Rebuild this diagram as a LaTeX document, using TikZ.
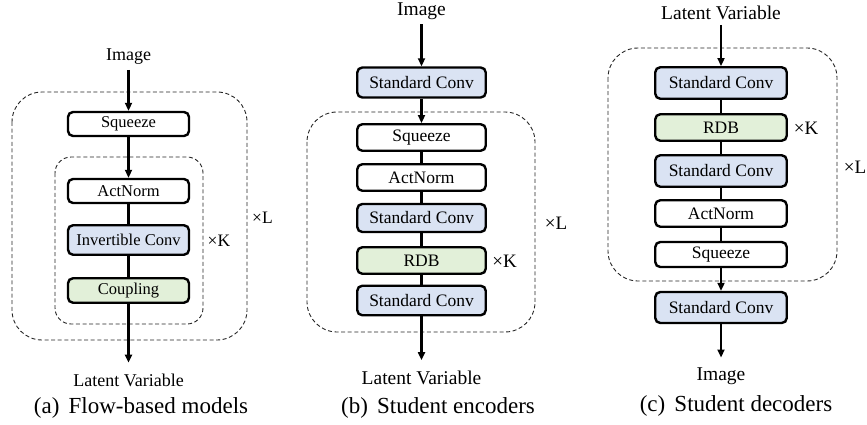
\documentclass[tikz,border=0pt]{standalone}
\usepackage{fontspec}
\setmainfont{Liberation Serif}
\newfontfamily\timesf{Liberation Serif}
\usetikzlibrary{arrows.meta,positioning,calc}

\definecolor{convblue}{HTML}{DAE3F3}
\definecolor{rdbgreen}{HTML}{E2F0D9}

\newcommand{\boxfa}{\timesf\fontsize{16.5}{19}\selectfont}
\newcommand{\boxfb}{\timesf\fontsize{17.5}{20}\selectfont}
\newcommand{\lblfa}{\timesf\fontsize{18}{21}\selectfont}
\newcommand{\lblfb}{\timesf\fontsize{19.5}{22}\selectfont}
\newcommand{\capf}{\timesf\fontsize{23}{26}\selectfont}

\tikzset{
  blk/.style={draw, line width=2.4pt, rounded corners=5pt, fill=white, inner sep=0pt, align=center},
  blka/.style={blk, minimum width=121pt, minimum height=24pt, font=\boxfa},
  blkb/.style={blk, minimum width=128.5pt, minimum height=26.5pt, font=\boxfb},
  blkc/.style={blk, minimum width=131.5pt, minimum height=26.5pt, font=\boxfb},
  conv/.style={fill=convblue},
  rdb/.style={fill=rdbgreen},
  lbl/.style={inner sep=2pt, outer sep=3pt},
  frame/.style={line width=0.9pt, dash pattern=on 4pt off 2.6pt, draw=black!85},
  link/.style={line width=2.2pt},
}

\begin{document}
\begin{tikzpicture}[x=1pt, y=-1pt, >={Triangle[length=8pt,width=7pt]}]
    \useasboundingbox (0,0) rectangle (867,425);

    %(a) flow-based models
    \draw[frame, rounded corners=30pt] (12,92) rectangle (247,340);
    \draw[frame, rounded corners=16pt] (55,157) rectangle (203,324);

    \node[lbl, font=\lblfa] (imgA) at (128.5,57) {Image};
    \node[blka] (sqA) at (128.5,124) {Squeeze};
    \node[blka] (anA) at (128.5,191) {ActNorm};
    \node[blka, conv, minimum height=29.5pt] (icA) at (128.5,240) {Invertible Conv};
    \node[blka, rdb, minimum height=24.5pt] (cpA) at (128.5,290.5) {Coupling};
    \node[lbl, font=\lblfa] (latA) at (128.5,380) {Latent Variable};

    \node[font=\timesf\fontsize{17.5}{20}\selectfont] (kA) at (219,241) {×K};
    \node[font=\timesf\fontsize{17.5}{20}\selectfont] (lA) at (262.5,218) {×L};
    \node[font=\capf] (capA) at (141,408) {(a)\hspace{0.15em} Flow-based models};

    \draw[link, ->] (imgA) -- (sqA);
    \draw[link, ->] (sqA) -- (anA);
    \draw[link] (anA) -- (icA);
    \draw[link] (icA) -- (cpA);
    \draw[link, ->, shorten >=6pt] (cpA) -- (latA);

    %(b) student encoders
    \draw[frame, rounded corners=30pt] (307,112) rectangle (535,332);

    \node[lbl, font=\lblfb] (imgB) at (421.5,11) {Image};
    \node[blkb, conv, minimum height=30pt] (sc1B) at (421.5,82.5) {Standard Conv};
    \node[blkb] (sqB) at (421.5,137.5) {Squeeze};
    \node[blkb] (anB) at (421.5,177.5) {ActNorm};
    \node[blkb, conv, minimum height=28pt] (sc2B) at (421.5,218) {Standard Conv};
    \node[blkb, rdb] (rdbB) at (421.5,260.5) {RDB};
    \node[blkb, conv, minimum height=29.5pt] (sc3B) at (421.5,300.5) {Standard Conv};
    \node[lbl, font=\lblfb] (latB) at (421.5,378) {Latent Variable};

    \node[font=\timesf\fontsize{19}{22}\selectfont] (kB) at (504.5,261) {×K};
    \node[font=\timesf\fontsize{19}{22}\selectfont] (lB) at (556,223) {×L};
    \node[font=\capf] (capB) at (438,408) {(b)\hspace{0.15em} Student encoders};

    \draw[link, ->] (imgB) -- (sc1B);
    \draw[link, ->] (sc1B) -- (sqB);
    \draw[link] (sqB) -- (anB);
    \draw[link] (anB) -- (sc2B);
    \draw[link] (sc2B) -- (rdbB);
    \draw[link] (rdbB) -- (sc3B);
    \draw[link, ->, shorten >=6pt] (sc3B) -- (latB);

    %(c) student decoders
    \draw[frame, rounded corners=30pt] (608,48) rectangle (837,281);

    \node[lbl, font=\lblfb] (latC) at (721,13) {Latent Variable};
    \node[blkc, conv, minimum height=31.5pt] (sc1C) at (721,83) {Standard Conv};
    \node[blkc, rdb] (rdbC) at (721,127.5) {RDB};
    \node[blkc, conv, minimum height=31.5pt] (sc2C) at (721,171) {Standard Conv};
    \node[blkc] (anC) at (721,213.5) {ActNorm};
    \node[blkc, minimum height=25pt] (sqC) at (721,254.5) {Squeeze};
    \node[blkc, conv, minimum height=31pt] (sc3C) at (721,307.5) {Standard Conv};
    \node[lbl, font=\lblfb] (imgC) at (721,376) {Image};

    \node[font=\timesf\fontsize{19}{22}\selectfont] (kC) at (806,128) {×K};
    \node[font=\timesf\fontsize{19}{22}\selectfont] (lC) at (855,167) {×L};
    \node[font=\capf] (capC) at (736,406) {(c)\hspace{0.15em} Student decoders};

    \draw[link, ->] (latC) -- (sc1C);
    \draw[link] (sc1C) -- (rdbC);
    \draw[link] (rdbC) -- (sc2C);
    \draw[link] (sc2C) -- (anC);
    \draw[link] (anC) -- (sqC);
    \draw[link, ->] (sqC) -- (sc3C);
    \draw[link, ->, shorten >=5pt] (sc3C) -- (imgC);
\end{tikzpicture}
\end{document}
